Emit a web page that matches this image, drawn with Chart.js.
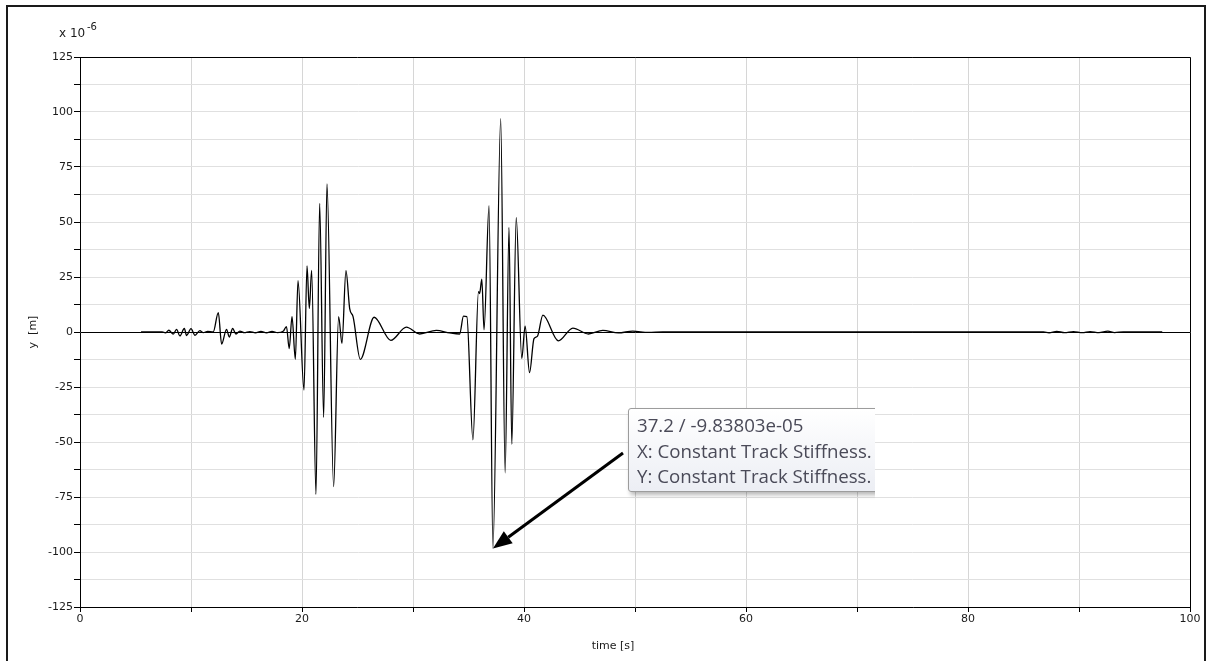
<!DOCTYPE html>
<html>
<head>
<meta charset="utf-8">
<title>Track displacement</title>
<script src="https://cdn.jsdelivr.net/npm/chart.js@4.4.1/dist/chart.umd.min.js"></script>
<style>
  html, body { margin: 0; padding: 0; background: #fff; }
  #wrap { position: relative; width: 1214px; height: 661px; overflow: hidden; }
  #chart { position: absolute; left: 0; top: 0; }
  #frame {
    position: absolute; left: 6px; top: 5px; width: 1200px; height: 720px;
    border: 2px solid #1a1a1a; box-sizing: border-box; pointer-events: none;
  }
  #tip-clip { position: absolute; left: 622px; top: 402px; width: 253px; height: 100px; overflow: hidden; }
  #tip {
    position: absolute; left: 6px; top: 6px; width: 300px; height: 84px;
    box-sizing: border-box; border: 1px solid #9c9c9c; border-radius: 3px;
    background: linear-gradient(#ffffff, #eceef4);
    box-shadow: 2px 3px 4px rgba(0, 0, 0, 0.28);
    padding: 3px 0 0 8px;
    font: 18.7px "Open Sans", "Noto Sans", sans-serif; color: #4a4a58;
    line-height: 25.5px; white-space: nowrap;
  }
</style>
</head>
<body>
<div id="wrap">
  <canvas id="chart" width="1214" height="661"></canvas>
  <div id="frame"></div>
  <div id="tip-clip">
    <div id="tip">
      <div>37.2 / -9.83803e-05</div>
      <div>X: Constant Track Stiffness.</div>
      <div>Y: Constant Track Stiffness.</div>
    </div>
  </div>
</div>
<script>
// time [s]
const timeValues = [
  5.5, 7.4, 7.7, 8.0, 8.4, 8.7, 9.0, 9.4, 9.6, 10.0, 10.36, 10.8, 11.1, 11.5, 12.0,
  12.46, 12.76, 13.2, 13.45, 13.75, 14.05, 14.4, 14.8, 15.3, 15.8, 16.3, 16.8, 17.3, 17.8, 18.3,
  18.6, 18.85, 19.1, 19.4, 19.64, 20.18, 20.45, 20.66, 20.87, 21.26, 21.59, 21.95, 22.25, 22.85,
  23.3, 23.6, 23.96, 24.3, 24.6, 25.25, 26.5, 28.0, 29.4, 30.6, 32.1, 33.3, 34.2,
  34.55, 34.85, 35.4, 35.9, 36.0, 36.2, 36.4, 36.85, 37.2, 37.9, 38.3, 38.65, 38.9, 39.3,
  39.8, 40.1, 40.5, 40.9, 41.2, 41.7, 43.1, 44.4, 45.8, 47.1, 48.5, 49.8, 51.2, 52.5, 54.0,
  86.8, 87.3, 88.0, 88.7, 89.5, 90.3, 91.0, 91.8, 92.6, 93.2, 94.0, 97.5
];
// y [m] x 10^-6
const dispValues = [
  0, 0, -0.4, 0.8, -1, 1.2, -1.8, 1.6, -1.6, 1.5, -1.5, 0.6, -0.3, 0.3, 0,
  8.8, -5.5, 1.2, -2.3, 1.6, -0.9, 0.4, -0.3, 0.2, -0.4, 0.3, -0.4, 0.3, -0.3, 0.3,
  2.4, -7.5, 7, -12.4, 23.3, -26.4, 30, 10.7, 28, -73.8, 58.5, -38.8, 67.3, -70.3,
  7, -5.2, 27.9, 10.5, 7, -12.4, 6.7, -3.8, 2.2, -0.9, 0.7, -0.4, -0.9,
  7.2, 7, -49, 18.3, 17.5, 24, 1, 57.4, -98.38, 97, -64, 47.6, -51, 52,
  -12, 2.7, -18.5, -3, -2, 7.7, -4, 1.8, -0.9, 0.7, -0.4, 0.4, -0.2, 0.1, 0,
  0, -0.4, 0.3, -0.3, 0.2, -0.3, 0.2, -0.3, 0.4, -0.3, 0.1, 0
];
const xTicks = [0, 20, 40, 60, 80, 100];
const yTicks = [-125, -100, -75, -50, -25, 0, 25, 50, 75, 100, 125];
const markedPoint = { x: 37.2, y: -98.3803 };

const FONT = '"DejaVu Sans", "Liberation Sans", sans-serif';

const overlayPlugin = {
  id: 'overlay',
  afterDraw(chart) {
    const { ctx, chartArea: a, scales } = chart;
    ctx.save();

    // closing frame of the plot area
    ctx.strokeStyle = '#000';
    ctx.lineWidth = 1;
    ctx.beginPath();
    ctx.moveTo(a.left, a.top + 0.5);
    ctx.lineTo(a.right + 0.5, a.top + 0.5);
    ctx.lineTo(a.right + 0.5, a.bottom);
    ctx.stroke();

    // exponent and axis titles
    ctx.fillStyle = '#1a1a1a';
    ctx.textBaseline = 'middle';
    ctx.textAlign = 'left';
    ctx.font = '12px ' + FONT;
    ctx.fillText('x 10', 59, 34);
    ctx.font = '10px ' + FONT;
    ctx.fillText('-6', 87, 27);

    ctx.font = '11px ' + FONT;
    ctx.textAlign = 'center';
    ctx.fillText('time [s]', 613, 646);
    ctx.save();
    ctx.translate(33, (a.top + a.bottom) / 2);
    ctx.rotate(-Math.PI / 2);
    ctx.fillText('y  [m]', 0, 0);
    ctx.restore();

    // arrow to the marked point
    const tipX = scales.x.getPixelForValue(markedPoint.x);
    const tipY = scales.y.getPixelForValue(markedPoint.y);
    const tailX = 623, tailY = 453;
    const ang = Math.atan2(tipY - tailY, tipX - tailX);
    const headLen = 19, headW = 7.5;
    const baseX = tipX - headLen * Math.cos(ang);
    const baseY = tipY - headLen * Math.sin(ang);
    ctx.strokeStyle = '#000';
    ctx.fillStyle = '#000';
    ctx.lineWidth = 3;
    ctx.beginPath();
    ctx.moveTo(tailX, tailY);
    ctx.lineTo(baseX, baseY);
    ctx.stroke();
    ctx.beginPath();
    ctx.moveTo(tipX, tipY);
    ctx.lineTo(baseX + headW * Math.sin(ang), baseY - headW * Math.cos(ang));
    ctx.lineTo(baseX - headW * Math.sin(ang), baseY + headW * Math.cos(ang));
    ctx.closePath();
    ctx.fill();

    ctx.restore();
  }
};

new Chart(document.getElementById('chart'), {
  type: 'line',
  data: {
    datasets: [{
      data: timeValues.map((t, i) => ({ x: t, y: dispValues[i] })),
      borderColor: '#000',
      borderWidth: 1.3,
      pointRadius: 0,
      fill: false,
      cubicInterpolationMode: 'monotone',
    }],
  },
  options: {
    responsive: false,
    animation: false,
    events: [],
    layout: { padding: { left: 0, top: 57, right: 24, bottom: 0 } },
    plugins: { legend: { display: false }, tooltip: { enabled: false } },
    scales: {
      x: {
        type: 'linear',
        min: 0,
        max: 100,
        afterFit: (s) => { s.height = 54; },
        border: { color: '#000', width: 1 },
        grid: { color: '#d6d6d6', tickColor: '#000', tickLength: 5 },
        ticks: {
          stepSize: 10,
          autoSkip: false,
          maxRotation: 0,
          padding: 1,
          color: '#1a1a1a',
          font: { family: FONT, size: 11 },
          callback: (v) => (xTicks.includes(v) ? String(v) : ''),
        },
      },
      y: {
        min: -125,
        max: 125,
        afterFit: (s) => { s.width = 80; },
        border: { color: '#000', width: 1 },
        grid: {
          color: (c) => (c.tick && c.tick.value === 0 ? '#000' : '#e0e0e0'),
          tickColor: '#000',
          tickLength: 6,
        },
        ticks: {
          stepSize: 12.5,
          autoSkip: false,
          padding: 1,
          color: '#1a1a1a',
          font: { family: FONT, size: 11 },
          callback: (v) => (yTicks.includes(v) ? String(v) : ''),
        },
      },
    },
  },
  plugins: [overlayPlugin],
});
</script>
</body>
</html>
